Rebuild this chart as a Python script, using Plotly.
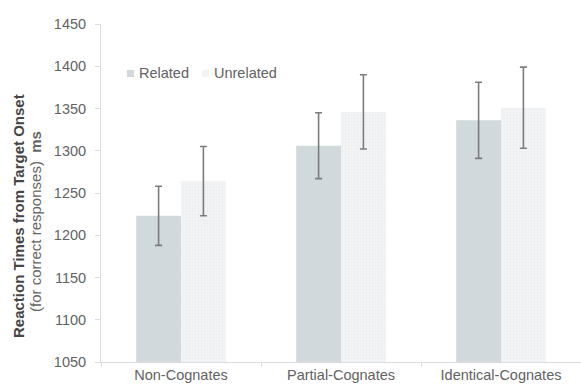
import plotly.graph_objects as go

categories = ["Non-Cognates", "Partial-Cognates", "Identical-Cognates"]
related = [1223, 1306, 1336]
related_err = [35, 39, 45]
unrelated = [1264, 1346, 1351]
unrelated_err = [41, 44, 48]
y_ticks = [1050, 1100, 1150, 1200, 1250, 1300, 1350, 1400, 1450]
series_names = ["Related", "Unrelated"]
series_colors = ["#d1d9dd", "#f1f3f4"]

font_family = "Arial, Liberation Sans, sans-serif"
grey_text = "#626262"

fig = go.Figure()
fig.add_trace(go.Bar(
    name=series_names[0], x=categories, y=related,
    marker=dict(color=series_colors[0], line=dict(width=0)),
    error_y=dict(type="data", array=related_err, color="#7c7c7c", thickness=1.6, width=3.5),
))
fig.add_trace(go.Bar(
    name=series_names[1], x=categories, y=unrelated,
    marker=dict(color=series_colors[1], line=dict(width=0),
                pattern=dict(shape=".", fgcolor="#e3e6e8", bgcolor="#f3f4f5", size=3, solidity=0.3)),
    error_y=dict(type="data", array=unrelated_err, color="#7c7c7c", thickness=1.6, width=3.5),
))

W, H = 581, 391
L, R, T, B = 101, 0, 24, 29
pw, ph = W - L - R, H - T - B

def px(x):
    return (x - L) / pw

def py(y):
    return (H - B - y) / ph

fig.update_layout(
    width=W, height=H,
    margin=dict(l=L, r=R, t=T, b=B),
    paper_bgcolor="white", plot_bgcolor="white",
    barmode="group", bargap=0.44, bargroupgap=0,
    font=dict(family=font_family, size=14, color=grey_text),
    showlegend=False,
    yaxis=dict(range=[1050, 1450], tickvals=y_ticks, showgrid=False, zeroline=False,
               showline=True, linecolor="#d9dde0", linewidth=1,
               ticks="outside", ticklen=5, tickcolor="#d9dde0", ticklabelstandoff=6,
               tickfont=dict(size=14.5, color=grey_text)),
    xaxis=dict(showgrid=False, showline=True, linecolor="#d9dde0", linewidth=1,
               ticks="outside", ticklen=4, tickcolor="#d9dde0", tickson="boundaries",
               tickfont=dict(size=14.5, color=grey_text)),
)

# legend drawn manually (small square swatches + text)
legend_x = [127, 202]
for name, col, lx in zip(series_names, series_colors, legend_x):
    fig.add_shape(type="rect", xref="paper", yref="paper",
                  x0=px(lx), x1=px(lx + 7), y0=py(77), y1=py(70),
                  fillcolor=col, line=dict(width=0))
    fig.add_annotation(text=name, xref="paper", yref="paper",
                       x=px(lx + 10), y=py(73), xanchor="left", yanchor="middle",
                       showarrow=False, font=dict(size=14.5, color=grey_text))

fig.add_annotation(text="<b>Reaction Times from Target Onset</b>", textangle=-90,
                   xref="paper", yref="paper", x=px(18), y=py(216),
                   xanchor="center", yanchor="middle", showarrow=False,
                   font=dict(size=15, color="#454545"))
fig.add_annotation(text="(for correct responses)  <b>ms</b>", textangle=-90,
                   xref="paper", yref="paper", x=px(35), y=py(222),
                   xanchor="center", yanchor="middle", showarrow=False,
                   font=dict(size=15, color="#666666"))

fig.write_html("out.html", config={"displayModeBar": False},
               post_script="document.body.style.margin='0';")
